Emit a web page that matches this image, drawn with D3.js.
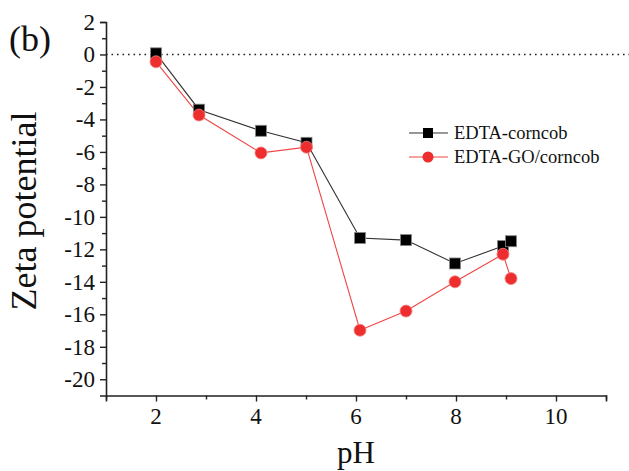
<!DOCTYPE html>
<html>
<head>
<meta charset="utf-8">
<script src="https://cdn.jsdelivr.net/npm/d3@7"></script>
<style>
body { margin: 0; background: #fff; }
svg text { font-family: "Liberation Serif", "Times New Roman", serif; fill: #111; }
</style>
</head>
<body>
<div id="main_div"></div>
<script>
var ph = [2, 2.86, 4.1, 5.01, 6.08, 7.0, 7.98, 8.94, 9.1];
var corncob = [0.07, -3.4, -4.7, -5.44, -11.3, -11.43, -12.87, -11.8, -11.5];
var go_corncob = [-0.45, -3.73, -6.06, -5.71, -16.98, -15.8, -14.0, -12.3, -13.8];
var x_ticks = [2, 4, 6, 8, 10];
var y_ticks = [2, 0, -2, -4, -6, -8, -10, -12, -14, -16, -18, -20];
var series_names = ["EDTA-corncob", "EDTA-GO/corncob"];

var W = 629, H = 471;
var x_scale = d3.scaleLinear().domain([1, 11]).range([106, 606]);
var y_scale = d3.scaleLinear().domain([-21, 2]).range([395.5, 22]);

var svg = d3.select("#main_div").append("svg").attr("width", W).attr("height", H);

// zero line
svg.append("line")
    .attr("x1", x_scale(1)).attr("x2", W)
    .attr("y1", y_scale(0)).attr("y2", y_scale(0))
    .attr("stroke", "#222").attr("stroke-width", 1.4)
    .attr("stroke-dasharray", "1.6,3.9");

// axes (lines only, labels drawn below)
var g_x = svg.append("g").attr("transform", "translate(0," + y_scale(-21) + ")")
    .call(d3.axisBottom(x_scale).tickValues(d3.range(1, 12)).tickSize(6).tickFormat(""));
var g_y = svg.append("g").attr("transform", "translate(" + x_scale(1) + ",0)")
    .call(d3.axisLeft(y_scale).tickValues(d3.range(-20, 3)).tickSize(6).tickFormat(""));

[g_x, g_y].forEach(function(g) {
    g.select(".domain").attr("stroke", "#222").attr("stroke-width", 1.6);
    g.selectAll(".tick line").attr("stroke", "#222").attr("stroke-width", 1.4);
    g.selectAll(".tick text").remove();
});
g_x.selectAll(".tick").filter(function(d) { return d % 2 == 1; }).select("line").attr("y2", 4);
g_y.selectAll(".tick").filter(function(d) { return Math.abs(d) % 2 == 1; }).select("line").attr("x2", -4);

svg.append("g").selectAll("text").data(x_ticks).enter().append("text")
    .attr("x", function(d) { return x_scale(d); })
    .attr("y", y_scale(-21) + 28)
    .attr("text-anchor", "middle")
    .style("font-size", "23px")
    .text(function(d) { return d; });

svg.append("g").selectAll("text").data(y_ticks).enter().append("text")
    .attr("x", x_scale(1) - 11)
    .attr("y", function(d) { return y_scale(d); })
    .attr("dy", "0.34em")
    .attr("text-anchor", "end")
    .style("font-size", "23px")
    .text(function(d) { return d; });

// lines
var pts1 = ph.map(function(d, i) { return [d, corncob[i]]; });
var pts2 = ph.map(function(d, i) { return [d, go_corncob[i]]; });
var line = d3.line().x(function(d) { return x_scale(d[0]); }).y(function(d) { return y_scale(d[1]); });

svg.append("path").datum(pts1).attr("d", line).attr("fill", "none").attr("stroke", "#333").attr("stroke-width", 1.1);
svg.append("path").datum(pts2).attr("d", line).attr("fill", "none").attr("stroke", "#f04545").attr("stroke-width", 1.1);

svg.append("g").selectAll("rect").data(pts1).enter().append("rect")
    .attr("x", function(d) { return x_scale(d[0]) - 5.5; })
    .attr("y", function(d) { return y_scale(d[1]) - 5.5; })
    .attr("width", 11).attr("height", 11)
    .attr("fill", "#000").attr("stroke", "#888").attr("stroke-width", 0.8);

svg.append("g").selectAll("circle").data(pts2).enter().append("circle")
    .attr("cx", function(d) { return x_scale(d[0]); })
    .attr("cy", function(d) { return y_scale(d[1]); })
    .attr("r", 6)
    .attr("fill", "#ee2e2e").attr("stroke", "#f58080").attr("stroke-width", 0.8);

// legend
var lg = svg.append("g");
var legend_y = [133, 157];
series_names.forEach(function(name, i) {
    var yy = legend_y[i];
    lg.append("line").attr("x1", 409).attr("x2", 448).attr("y1", yy).attr("y2", yy)
        .attr("stroke", i == 0 ? "#333" : "#f04545").attr("stroke-width", 1.1);
    if (i == 0) {
        lg.append("rect").attr("x", 428 - 5).attr("y", yy - 5).attr("width", 10).attr("height", 10).attr("fill", "#000");
    } else {
        lg.append("circle").attr("cx", 428).attr("cy", yy).attr("r", 5.5).attr("fill", "#ee2e2e");
    }
    lg.append("text").attr("x", 454).attr("y", yy).attr("dy", "0.35em")
        .style("font-size", "18.5px").text(name);
});

// titles
svg.append("text").attr("x", 9).attr("y", 51).style("font-size", "36px").text("(b)");
svg.append("text").attr("transform", "translate(36,211) rotate(-90)")
    .attr("text-anchor", "middle").style("font-size", "36px").text("Zeta potential");
svg.append("text").attr("x", x_scale(6)).attr("y", 463).attr("text-anchor", "middle")
    .style("font-size", "31px").text("pH");
</script>
</body>
</html>
